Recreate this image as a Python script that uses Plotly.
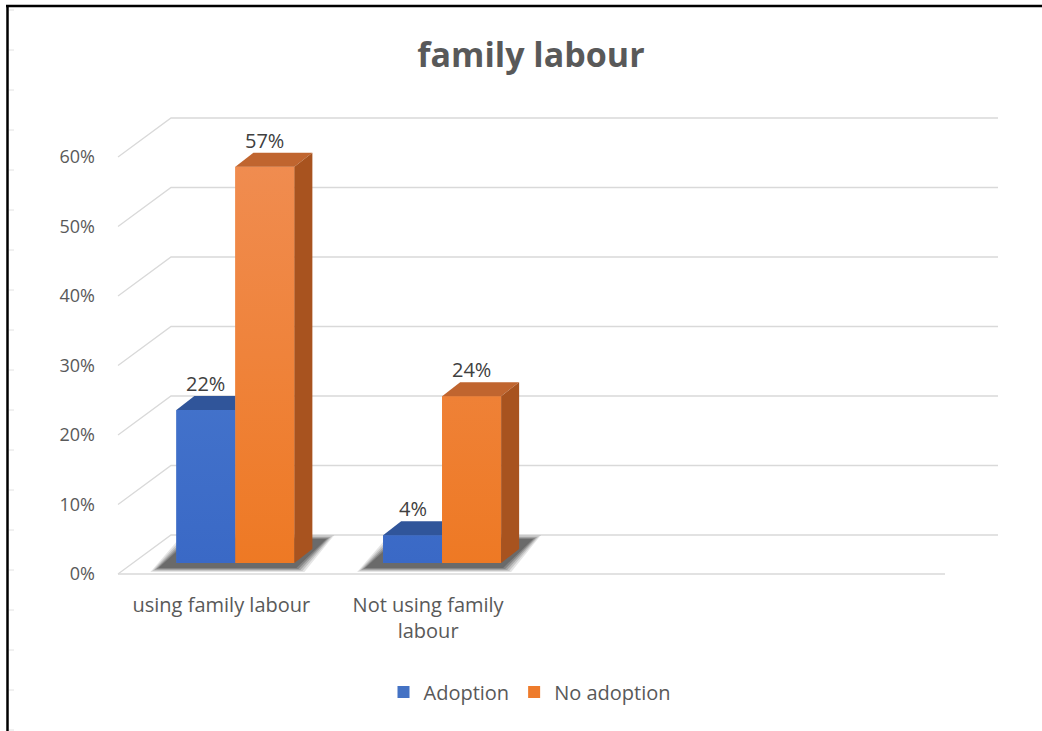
import plotly.graph_objects as go

# ---- data ----
categories = ["using family labour", "Not using family<br>labour"]
series_names = ["Adoption", "No adoption"]
adoption = [0.22, 0.04]
no_adoption = [0.57, 0.24]
series_values = [adoption, no_adoption]
y_ticks = [0, 0.1, 0.2, 0.3, 0.4, 0.5, 0.6]
n_slots = 4  # category slots on the floor; the last two are empty

# ---- styling ----
front_colors = ["#4472c4", "#ee7b2b"]
front_shade = [("#3a69c6", "#5080d2"), ("#ee7924", "#f08d52")]  # bottom, top
top_colors = ["#30559a", "#c0652f"]
side_colors = ["#2a4c8a", "#a8531f"]
grid_color = "#d9d9d9"
text_color = "#595959"
FONT = "Open Sans"

W, H = 1042, 731
L, R, T, B = 110, 1000, 110, 580          # plot area in pixels
CAT_PX = (945 - 118) / n_slots            # pixels per category slot
VAL_PX = 695.0                            # pixels per 100 %

# oblique projection offsets (x in category units, y in value units)
FLOOR_DX, FLOOR_DY = 53 / CAT_PX, 39 / VAL_PX     # full floor depth
PLANE_DX, PLANE_DY = 14 / CAT_PX, 11 / VAL_PX     # plane the bars stand on
BAR_DX, BAR_DY = 18 / CAT_PX, 14 / VAL_PX         # depth of a bar
BAR_W = 59 / CAT_PX

x_lo = -0.5 - (118 - L) / CAT_PX
x_hi = -0.5 + (R - 118) / CAT_PX
y_lo = -(B - 574) / VAL_PX
y_hi = (574 - T) / VAL_PX


def px_x(p):
    return (p - L) / (R - L)


def px_y(p):
    return (B - p) / (B - T)


def cx(p):
    return p / CAT_PX


def vy(p):
    return p / VAL_PX


fig = go.Figure()
shapes = []

# back wall + side wall gridlines
x_left = -0.5
x_back_end = -0.5 + FLOOR_DX + n_slots
for v in y_ticks:
    shapes.append(dict(
        type="path", layer="below", xref="x", yref="y",
        path=f"M{x_left},{v} L{x_left + FLOOR_DX},{v + FLOOR_DY} L{x_back_end},{v + FLOOR_DY}",
        line=dict(color=grid_color, width=1.3)))
# front edge of the floor
shapes.append(dict(type="line", layer="below", xref="x", yref="y",
                   x0=-0.5, x1=-0.5 + n_slots, y0=0, y1=0,
                   line=dict(color=grid_color, width=1.3)))

# soft floor shadows under each cluster (stacked translucent layers)
n_series = len(series_values)
for c in range(len(categories)):
    gx0 = c + PLANE_DX - BAR_W
    gx1 = c + PLANE_DX + (n_series - 1) * BAR_W
    for grow, alpha in [(4, 0.12), (2, 0.16), (0, 0.22), (-2, 0.28), (-4, 0.3)]:
        bx0 = gx0 - cx(22) - cx(grow)
        bx1 = gx1 + cx(6) + cx(grow)
        by = PLANE_DY - vy(7) - vy(grow * 0.5)
        tx1 = gx1 + BAR_DX + cx(18) + cx(grow)
        tx0 = gx0 + cx(10) - cx(grow)
        ty = PLANE_DY + vy(26) + vy(grow * 0.5)
        shapes.append(dict(
            type="path", layer="below", xref="x", yref="y",
            path=f"M{bx0},{by} L{bx1},{by} L{tx1},{ty} L{tx0},{ty} Z",
            fillcolor=f"rgba(45,45,45,{alpha})", line=dict(width=0)))

# front faces of the bars
for i, (name, vals) in enumerate(zip(series_names, series_values)):
    fig.add_trace(go.Bar(
        x=list(range(len(categories))), y=vals, base=PLANE_DY,
        offset=PLANE_DX - BAR_W + i * BAR_W, width=BAR_W,
        name=name, marker=dict(color=front_colors[i], line=dict(width=0)),
        hoverinfo="skip"))

# shading on the front faces, then top and side faces
for i, vals in enumerate(series_values):
    last = i == n_series - 1
    for c, v in enumerate(vals):
        x0 = c + PLANE_DX - BAR_W + i * BAR_W
        x1 = x0 + BAR_W
        t = PLANE_DY + v
        fig.add_trace(go.Scatter(
            x=[x0, x1, x1, x0, x0], y=[PLANE_DY, PLANE_DY, t, t, PLANE_DY],
            fill="toself", mode="lines", line=dict(width=0),
            fillgradient=dict(type="vertical", start=PLANE_DY, stop=PLANE_DY + 0.6,
                              colorscale=[[0, front_shade[i][0]], [1, front_shade[i][1]]]),
            showlegend=False, hoverinfo="skip"))
        if last:
            tx = [x0, x1, x1 + BAR_DX, x0 + BAR_DX, x0]
        else:
            tx = [x0, x1, x1, x0 + BAR_DX, x0]
        ty = [t, t, t + BAR_DY, t + BAR_DY, t]
        fig.add_trace(go.Scatter(x=tx, y=ty, fill="toself", mode="lines",
                                 fillcolor=top_colors[i], line=dict(width=0),
                                 showlegend=False, hoverinfo="skip"))
        if last:
            sx = [x1, x1 + BAR_DX, x1 + BAR_DX, x1, x1]
            sy = [PLANE_DY, PLANE_DY + BAR_DY, t + BAR_DY, t, PLANE_DY]
            fig.add_trace(go.Scatter(x=sx, y=sy, fill="toself", mode="lines",
                                     fillcolor=side_colors[i], line=dict(width=0),
                                     showlegend=False, hoverinfo="skip"))

# value labels
annotations = []
for i, vals in enumerate(series_values):
    for c, v in enumerate(vals):
        xc = c + PLANE_DX - BAR_W + i * BAR_W + BAR_W / 2
        annotations.append(dict(
            x=xc, y=PLANE_DY + v + BAR_DY, xref="x", yref="y",
            text=f"{round(v * 100)}%", showarrow=False, yanchor="bottom",
            yshift=-3, font=dict(family=FONT, size=20, color="#404040")))

# outer frame (left and top edges) with faint ruler ticks
shapes.append(dict(type="line", xref="paper", yref="paper",
                   x0=px_x(7.5), x1=px_x(7.5), y0=px_y(5), y1=px_y(731),
                   line=dict(color="#000000", width=2.5)))
shapes.append(dict(type="line", xref="paper", yref="paper",
                   x0=px_x(6), x1=px_x(1042), y0=px_y(6), y1=px_y(6),
                   line=dict(color="#000000", width=2.5)))
for yy in range(10, 731, 40):
    shapes.append(dict(type="line", xref="paper", yref="paper",
                       x0=px_x(9), x1=px_x(14), y0=px_y(yy), y1=px_y(yy),
                       line=dict(color="#e2e2e2", width=1)))

fig.update_layout(
    width=W, height=H, autosize=False,
    margin=dict(l=L, r=W - R, t=T, b=H - B),
    paper_bgcolor="white", plot_bgcolor="white",
    barmode="overlay",
    shapes=shapes, annotations=annotations,
    title=dict(text="family labour", xref="paper", x=px_x(531), xanchor="center",
               yref="container", y=1 - 55 / H, yanchor="middle",
               font=dict(family=FONT, size=34, color=text_color, weight="bold")),
    xaxis=dict(range=[x_lo, x_hi], tickvals=list(range(len(categories))),
               ticktext=categories, showgrid=False, zeroline=False, showline=False,
               ticks="", ticklabelstandoff=11,
               tickfont=dict(family=FONT, size=20, color=text_color)),
    yaxis=dict(range=[y_lo, y_hi], tickvals=y_ticks, tickformat=".0%",
               showgrid=False, zeroline=False, showline=False, ticks="",
               ticklabelstandoff=14,
               tickfont=dict(family=FONT, size=18, color=text_color)),
    legend=dict(orientation="h", x=px_x(530), xanchor="center",
                y=px_y(692), yanchor="middle",
                font=dict(family=FONT, size=20, color=text_color),
                itemwidth=30, traceorder="normal"),
    showlegend=True,
)

fig.write_html("out.html")
